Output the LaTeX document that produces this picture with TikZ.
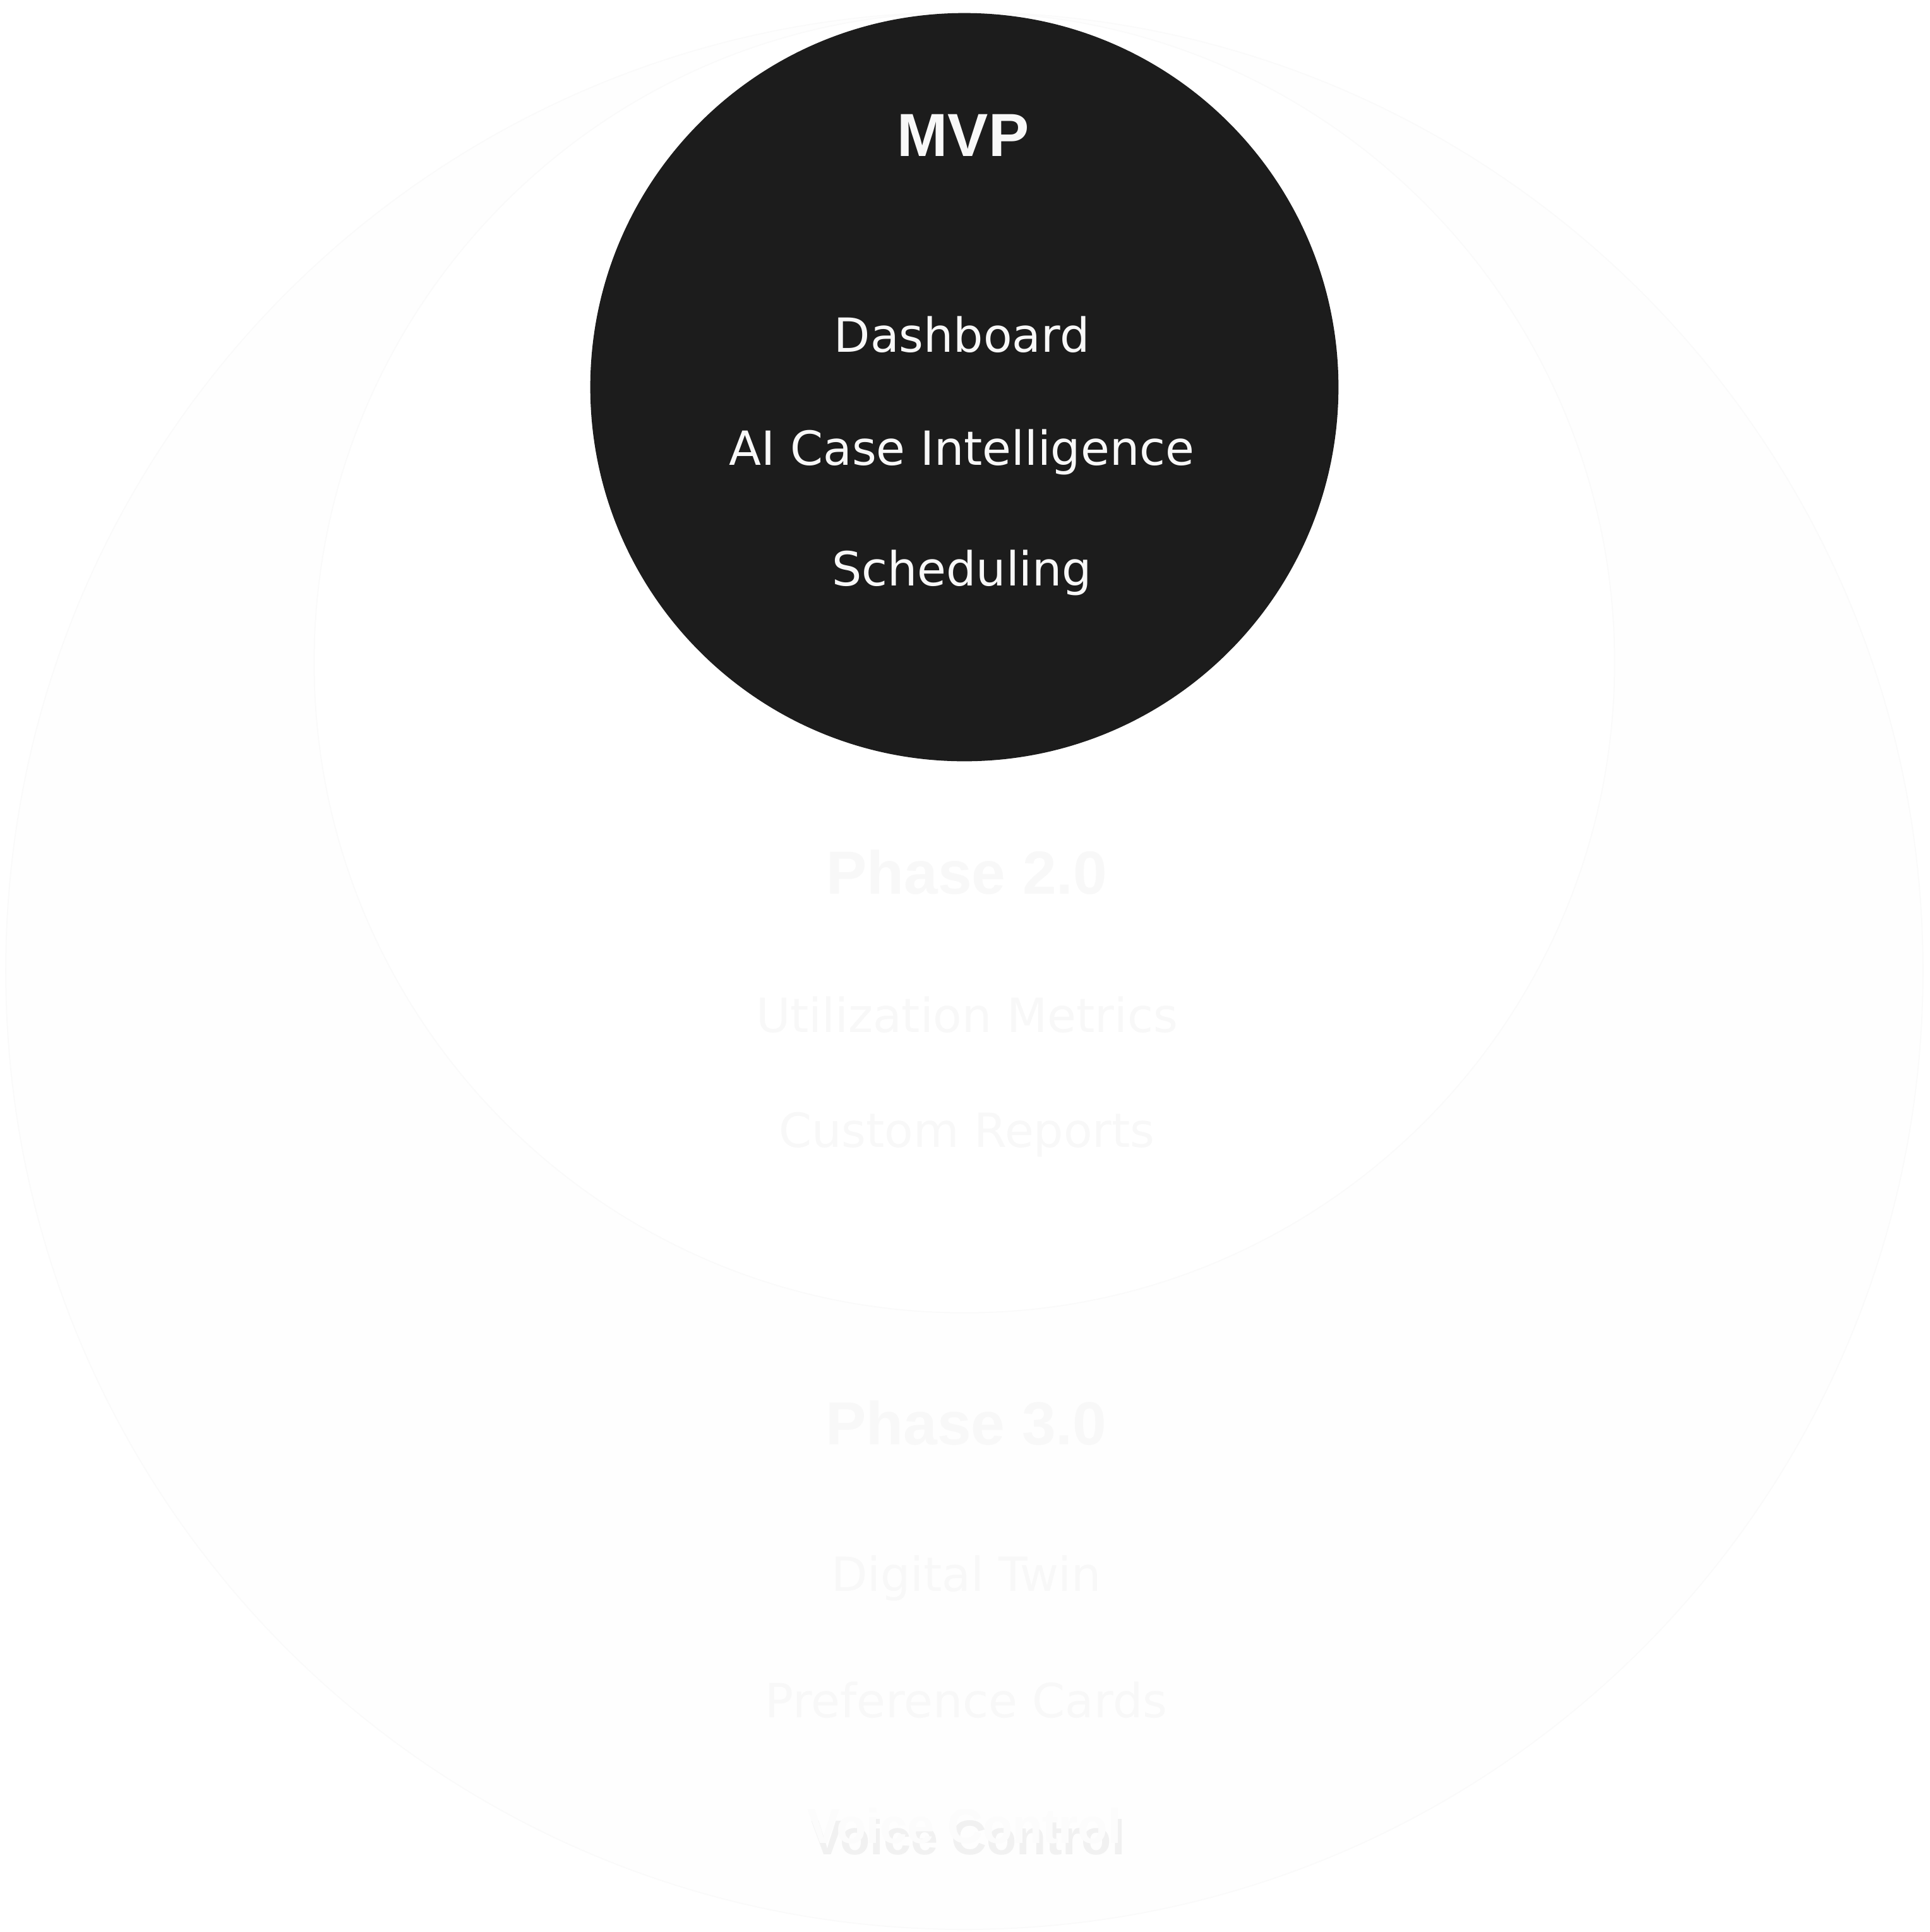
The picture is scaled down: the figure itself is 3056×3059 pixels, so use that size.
\documentclass[tikz,border=0pt]{standalone}
\usepackage{fontspec}
\setmainfont{Liberation Sans}
\newfontfamily\itemfont{DejaVu Sans}
\usetikzlibrary{positioning}

\definecolor{disc}{HTML}{1C1C1C}
\definecolor{chalk}{HTML}{F8F8F8}
\definecolor{ghost}{HTML}{F8F8F8}
\definecolor{ringline}{HTML}{FAFAFA}
\definecolor{ringfill}{HTML}{FEFEFE}
\definecolor{haze}{HTML}{F1F1F1}
\definecolor{snow}{HTML}{FCFCFC}

% white text with a soft shadow below it
\newcommand\shadowed[1]{\rlap{\kern0.06cm\raisebox{-0.18cm}{\textcolor{haze}{#1}}}#1}

\begin{document}
\begin{tikzpicture}[x=0.01cm, y=-0.01cm,
    phase/.style={circle, inner sep=0pt, draw=ringline, line width=0.5pt},
    title/.style={anchor=base, font=\bfseries\fontsize{27.4}{32}\selectfont},
    item/.style={anchor=base, font=\itemfont\fontsize{21.2}{26}\selectfont}]

    % Page frame
    \fill[white] (0,0) rectangle (3056,3059);
    \useasboundingbox (0,0) rectangle (3056,3059);

    % Nested phase circles, all touching at the top
    \node[phase, fill=ringfill, minimum size=30.34cm] (phase3) at (1527,1537) {};
    \node[phase, fill=white, minimum size=20.58cm] (phase2) at (1527,1049) {};
    \node[circle, inner sep=0pt, fill=disc, minimum size=11.84cm] (mvp) at (1527,613) {};

    % MVP (active)
    \node[title, text=chalk] (mvp-title) at (1525,247) {MVP};
    \foreach \lbl/\yy [count=\i] in {Dashboard/557, AI Case Intelligence/736, Scheduling/927}
        \node[item, text=chalk] (mvp-\i) at (1523,\yy) {\lbl};

    % Phase 2.0 (faded)
    \node[title, text=ghost] (p2-title) at (1531,1415) {Phase 2.0};
    \foreach \lbl/\yy [count=\i] in {Utilization Metrics/1634, Custom Reports/1816}
        \node[item, text=ghost] (p2-\i) at (1531,\yy) {\lbl};

    % Phase 3.0 (faded)
    \node[title, text=ghost] (p3-title) at (1530,2287) {Phase 3.0};
    \foreach \lbl/\yy [count=\i] in {Digital Twin/2519, Preference Cards/2719}
        \node[item, text=ghost] (p3-\i) at (1530,\yy) {\lbl};

    % Voice Control, lifted with a shadow
    \node[anchor=base, text=snow, font=\bfseries\fontsize{22}{26}\selectfont] (voice) at (1527,2918) {\shadowed{Voice Control}};

\end{tikzpicture}
\end{document}
